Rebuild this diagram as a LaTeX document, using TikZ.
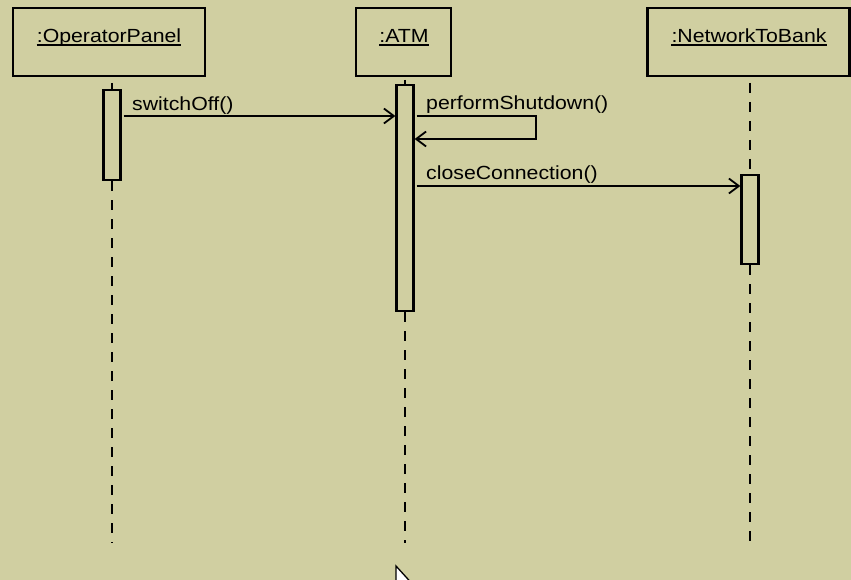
\documentclass[tikz,border=0pt]{standalone}
\usepackage{fontspec}
\setmainfont{Liberation Sans}[FakeStretch=1.12]
\usetikzlibrary{arrows.meta}
\definecolor{bg}{RGB}{208,207,161}
\begin{document}
\begin{tikzpicture}[x=1pt,y=-1pt,
  font=\fontsize{19}{22}\selectfont,
  objbox/.style={draw, line width=2.2pt, inner sep=0pt, minimum height=68pt},
  objname/.style={inner sep=0pt, anchor=base},
  actbar/.style={draw, fill=bg, line width=2.2pt, inner sep=0pt, minimum width=17pt},
  lifeline/.style={line width=2.2pt, dash pattern=on 10pt off 9pt},
  msg/.style={line width=1.9pt, -{Straight Barb[length=10pt,width=15pt,line width=1.8pt]}},
  msgtext/.style={inner sep=0pt, anchor=base west}]
\fill[bg] (0,0) rectangle (851,580);
\useasboundingbox (0,0) rectangle (851,580);

% object boxes
\node[objbox, minimum width=192pt] (op)  at (109,42) {};
\node[objbox, minimum width=95pt]  (atm) at (403.5,42) {};
\node[objbox, minimum width=202pt] (net) at (748.5,42) {};

% object names, underlined
\foreach \n/\x/\t in {opN/109/{:OperatorPanel}, atmN/404/{:ATM}, netN/749/{:NetworkToBank}} {
  \node[objname] (\n) at (\x,43) {\t};
  \draw[line width=2pt] ([yshift=-2.5pt]\n.base west) -- ([yshift=-2.5pt]\n.base east);
}

% activation bars
\node[actbar, minimum height=90pt]  (opA)  at (112,135) {};
\node[actbar, minimum height=226pt] (atmA) at (405,198) {};
\node[actbar, minimum height=89pt]  (netA) at (750,219.5) {};

% lifeline ends
\coordinate (opTop)  at (112,83);
\coordinate (atmTop) at (405,80);
\coordinate (netTop) at (750,83);
\coordinate (opEnd)  at (112,543);
\coordinate (atmEnd) at (405,543);
\coordinate (netEnd) at (750,543);

% lifelines
\draw[line width=2.2pt] (opTop) -- (opA.north);
\draw[line width=2.2pt] (atmTop) -- (atmA.north);
\draw[lifeline] (opA.south) -- (opEnd);
\draw[lifeline] (atmA.south) -- (atmEnd);
\draw[lifeline] (netTop) -- (netA.north);
\draw[lifeline] (netA.south) -- (netEnd);

% message levels
\coordinate (y1) at (0,116);
\coordinate (y2) at (0,139);
\coordinate (y3) at (0,186);
\coordinate (loopR) at (536,0);

% switchOff()
\draw[msg, shorten <=2pt] (opA.east |- y1) -- (atmA.west |- y1);
\node[msgtext] (t1) at (132,111) {switchOff()};

% performShutdown() (self call)
\draw[msg, shorten <=2pt] (atmA.east |- y1) -- (loopR |- y1) -- (loopR |- y2) -- (atmA.east |- y2);
\node[msgtext] (t2) at (426,110) {performShutdown()};

% closeConnection()
\draw[msg, shorten <=2pt] (atmA.east |- y3) -- (netA.west |- y3);
\node[msgtext] (t3) at (426,180) {closeConnection()};

% mouse pointer
\begin{scope}
\clip (0,0) rectangle (851,580);
\draw[fill=white, line width=1.3pt] (396,566) -- (396,592) -- (416,588) -- cycle;
\end{scope}
\end{tikzpicture}
\end{document}
